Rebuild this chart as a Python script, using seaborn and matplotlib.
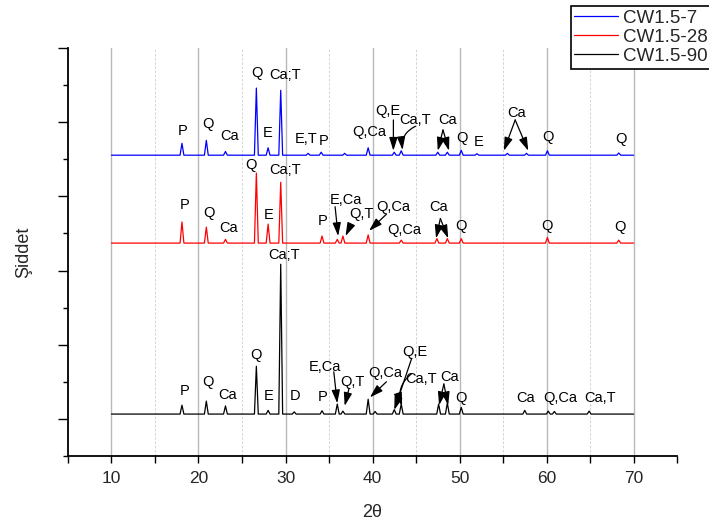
import pandas as pd
import seaborn as sns
import matplotlib.pyplot as plt

# samples and their vertical offsets (stacked diffractograms)
samples = ['CW1.5-7', 'CW1.5-28', 'CW1.5-90']
colors = ['#0000ff', '#ff0000', '#000000']
baseline = [8.11, 5.74, 1.13]

# peak positions (2theta) and heights above the baseline
pos_7 = [18.1, 20.9, 23.1, 26.65, 28.0, 29.45, 32.6, 34.1, 36.8, 39.5, 42.5, 43.3,
         47.5, 48.6, 50.2, 52.0, 55.5, 57.7, 60.1, 68.3]
h_7 = [0.32, 0.40, 0.10, 1.81, 0.20, 1.75, 0.05, 0.08, 0.05, 0.20, 0.08, 0.12,
       0.08, 0.08, 0.13, 0.04, 0.05, 0.05, 0.12, 0.06]

pos_28 = [18.1, 20.9, 23.1, 26.65, 28.0, 29.45, 34.2, 35.95, 36.6, 39.5, 43.3,
          47.4, 48.6, 50.2, 60.1, 68.3]
h_28 = [0.57, 0.43, 0.10, 1.89, 0.51, 1.64, 0.19, 0.10, 0.19, 0.22, 0.08,
        0.12, 0.12, 0.12, 0.15, 0.08]

pos_90 = [18.1, 20.9, 23.1, 26.65, 28.0, 29.45, 31.0, 34.2, 35.95, 36.6, 39.5,
          40.3, 42.5, 43.3, 47.6, 48.6, 50.2, 57.5, 60.2, 60.9, 64.9]
h_90 = [0.24, 0.35, 0.22, 1.29, 0.10, 4.04, 0.06, 0.09, 0.27, 0.08, 0.40,
        0.07, 0.12, 0.27, 0.27, 0.30, 0.18, 0.10, 0.08, 0.07, 0.08]

# phase labels: (text, 2theta, y)
labels_7 = [('P', 18.2, 8.76), ('Q', 21.1, 8.95), ('Ca', 23.6, 8.63), ('Q', 26.7, 10.32),
            ('E', 28.0, 8.71), ('Ca;T', 30.0, 10.27), ('E,T', 32.4, 8.54), ('P', 34.4, 8.5),
            ('Q,Ca', 39.6, 8.74), ('Q,E', 41.8, 9.29), ('Ca,T', 44.9, 9.07), ('Ca', 48.6, 9.07),
            ('Q', 50.3, 8.56), ('E', 52.25, 8.47), ('Ca', 56.55, 9.26), ('Q', 60.2, 8.59),
            ('Q', 68.5, 8.54)]
labels_28 = [('P', 18.35, 6.77), ('Q', 21.2, 6.54), ('Ca', 23.45, 6.14), ('Q', 26.0, 7.84),
             ('E', 28.1, 6.5), ('Ca;T', 30.0, 7.71), ('P', 34.25, 6.34), ('E,Ca', 36.9, 6.9),
             ('Q,T', 38.7, 6.52), ('Q,Ca', 42.4, 6.72), ('Q,Ca', 43.6, 6.09), ('Ca', 47.55, 6.72),
             ('Q', 50.2, 6.2), ('Q', 60.1, 6.2), ('Q', 68.4, 6.18)]
labels_90 = [('P', 18.35, 1.76), ('Q', 21.1, 2.0), ('Ca', 23.3, 1.64), ('Q', 26.6, 2.72),
             ('E', 28.1, 1.62), ('Ca;T', 29.85, 5.42), ('D', 31.15, 1.62), ('P', 34.25, 1.58),
             ('E,Ca', 34.5, 2.41), ('Q,T', 37.65, 2.0), ('Q,Ca', 41.5, 2.25), ('Q,E', 44.9, 2.8),
             ('Ca,T', 45.6, 2.07), ('Ca', 48.8, 2.12), ('Q', 50.2, 1.55), ('Ca', 57.6, 1.55),
             ('Q,Ca', 61.6, 1.57), ('Ca,T', 66.1, 1.55)]

# arrows: (tail, head, curvature)
arrows = [((42.4, 9.06), (42.4, 8.23), 0), ((44.94, 8.89), (43.45, 8.25), 0.35),
          ((48.1, 8.79), (47.5, 8.23), 0), ((48.1, 8.79), (48.8, 8.23), 0),
          ((56.4, 9.06), (55.1, 8.23), 0), ((56.4, 9.06), (57.9, 8.23), 0),
          ((35.7, 6.72), (36.05, 5.93), 0), ((37.4, 6.18), (36.9, 5.93), 0),
          ((41.6, 6.52), (39.6, 6.07), 0), ((47.8, 6.4), (47.3, 5.87), 0),
          ((47.8, 6.4), (48.7, 5.87), 0),
          ((35.55, 2.27), (35.95, 1.42), 0), ((37.3, 1.82), (36.8, 1.35), 0),
          ((41.6, 2.0), (39.7, 1.58), 0), ((44.5, 2.63), (42.5, 1.24), 0),
          ((44.5, 2.22), (43.4, 1.35), 0.35), ((48.2, 1.94), (47.65, 1.37), 0),
          ((48.2, 1.94), (48.7, 1.37), 0)]


def trace(name, base, pos, h, w=0.22):
    x, y = [10.0], [base]
    for p, hh in zip(pos, h):
        x += [p - w, p, p + w]
        y += [base, base + hh, base]
    x.append(70.0)
    y.append(base)
    return pd.DataFrame({'2theta': x, 'I': y, 'sample': name})


df = pd.concat([trace(samples[0], baseline[0], pos_7, h_7),
                trace(samples[1], baseline[1], pos_28, h_28),
                trace(samples[2], baseline[2], pos_90, h_90)], ignore_index=True)

sns.set_style('ticks')
plt.rcParams['font.family'] = ['Liberation Sans', 'DejaVu Sans']

fig = plt.figure(figsize=(7.09, 5.24), dpi=100)
ax = fig.add_axes([0.0959, 0.1298, 0.859, 0.7786])

sns.lineplot(data=df, x='2theta', y='I', hue='sample', hue_order=samples,
             palette=colors, estimator=None, sort=False, lw=0.9, ax=ax)

for labs in (labels_7, labels_28, labels_90):
    for t, x, y in labs:
        ax.text(x, y, t, ha='center', va='center', fontsize=10.5, color='k')

for tail, head, rad in arrows:
    ax.annotate('', xy=head, xytext=tail,
                arrowprops=dict(arrowstyle='-|>,head_length=0.8,head_width=0.25',
                                mutation_scale=10, color='k', lw=0.9,
                                shrinkA=0, shrinkB=0,
                                connectionstyle=f'arc3,rad={rad}'))

ax.set_xlim(5, 75)
ax.set_ylim(0, 11)
ax.set_xticks(range(10, 71, 10))
ax.set_xticks(range(5, 76, 10), minor=True)
ax.set_yticks([1, 3, 5, 7, 9, 11])
ax.set_yticks([0, 2, 4, 6, 8, 10], minor=True)
ax.set_yticklabels([])
ax.tick_params(axis='x', which='both', length=5, width=1, direction='out',
               labelsize=12.5, pad=6, color='k')
ax.tick_params(axis='y', which='major', length=7, width=1, direction='out', color='k')
ax.tick_params(axis='y', which='minor', length=3.5, width=1, direction='out', color='k')

ax.grid(which='major', axis='x', color='#b8b8b8', lw=1.0)
ax.grid(which='minor', axis='x', color='#cccccc', lw=0.6, ls=(0, (3, 2)))
ax.grid(False, axis='y', which='both')
ax.set_axisbelow(True)

sns.despine(ax=ax)
for s in ('left', 'bottom'):
    ax.spines[s].set_linewidth(1.3)
    ax.spines[s].set_color('k')

ax.set_xlabel('2θ', fontsize=13, labelpad=13)
ax.set_ylabel('Şiddet', fontsize=13, labelpad=15)

handles, labels = ax.get_legend_handles_labels()
ax.get_legend().remove()
leg = fig.legend(handles, labels, loc='upper left', bbox_to_anchor=(570.7 / 709, 1 - 6 / 524),
                 borderaxespad=0, fontsize=13.5, frameon=True, fancybox=False,
                 edgecolor='k', framealpha=1, handlelength=2.3, handletextpad=0.3,
                 labelspacing=0.1, borderpad=0.2)
leg.get_frame().set_linewidth(1.2)

fig.savefig('out.png', dpi=100)
